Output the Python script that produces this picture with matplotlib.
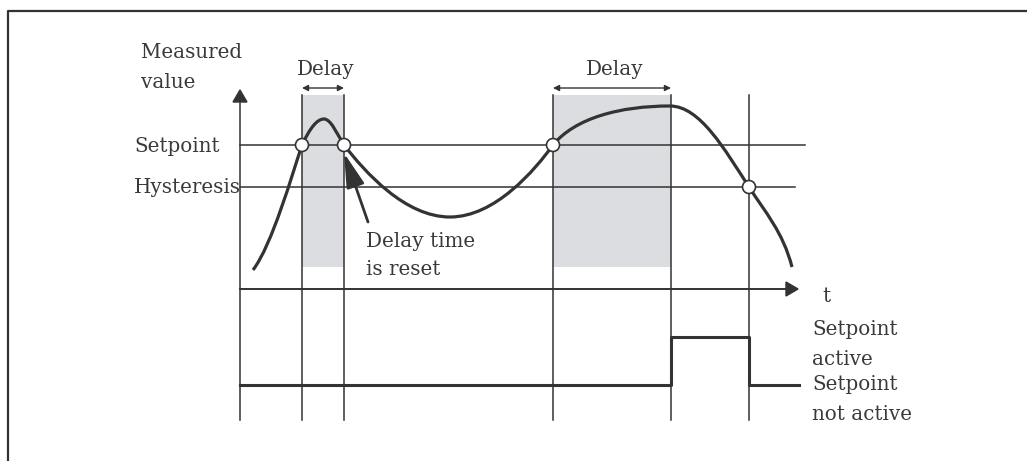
import matplotlib.pyplot as plt
from matplotlib.path import Path
from matplotlib.patches import PathPatch, Polygon, Circle

# layout is in pixel units of the 1027x461 canvas (y grows downwards)
axis_x = 240
axis_top = 102
axis_bottom = 420
time_axis_y = 289
time_axis_end = 798

setpoint_y = 145
hysteresis_y = 187
setpoint_end = 805
hysteresis_end = 795

# switching instants: up-crossing, reset, up-crossing, switch on, switch off
event_t = [302, 344, 553, 671, 749]
event_top = 95
delay_windows = [(302, 344), (553, 671)]
delay_bottom = 267
delay_arrow_y = 88

# measured value, drawn as cubic bezier segments (start point, then 3 per segment)
curve_pts = [
    (253, 270),
    (272, 245), (292, 175), (302, 145),
    (310, 128), (317, 119), (324, 119),
    (331, 119), (337, 134), (344, 145),
    (365, 172), (405, 217), (450, 217),
    (495, 217), (535, 170), (553, 145),
    (575, 118), (620, 106), (670, 106),
    (700, 106), (725, 150), (749, 187),
    (765, 212), (783, 232), (792, 267),
]
crossings = [(302, 145), (344, 145), (553, 145), (749, 187)]

# relay output
switch_t = [240, 671, 749, 799]
switch_state = [0, 1, 0, 0]
low_y, high_y = 385, 337

ink = "#333333"
text_c = "#3a3a3a"
band_c = "#dcdde0"

fig = plt.figure(figsize=(10.27, 4.61), dpi=100)
ax = fig.add_axes([0, 0, 1, 1])
ax.set_xlim(0, 1027)
ax.set_ylim(461, 0)
ax.axis("off")

# frame (open to the right and bottom)
ax.plot([8, 8, 1027], [461, 11, 11], color=ink, lw=1.6, solid_capstyle="butt")

# delay windows
for a, b in delay_windows:
    ax.fill_between([a, b], event_top, delay_bottom, color=band_c, lw=0, zorder=1)
    ax.annotate("", xy=(a, delay_arrow_y), xytext=(b, delay_arrow_y),
                arrowprops=dict(arrowstyle="<|-|>", color=ink, lw=1.0,
                                mutation_scale=9, shrinkA=0, shrinkB=0))
    ax.text((a + b) / 2 + 3, 75, "Delay", ha="center", va="baseline",
            fontsize=14.3, color=text_c, family="DejaVu Serif")

# vertical event lines
for t in event_t:
    ax.plot([t, t], [event_top, axis_bottom], color=ink, lw=1.1, zorder=2)

# level lines
ax.plot([axis_x, setpoint_end], [setpoint_y] * 2, color=ink, lw=1.1, zorder=2)
ax.plot([axis_x, hysteresis_end], [hysteresis_y] * 2, color=ink, lw=1.1, zorder=2)

# axes with arrow heads
ax.plot([axis_x, axis_x], [axis_top, axis_bottom], color=ink, lw=1.1, zorder=2)
ax.add_patch(Polygon([(axis_x - 7, axis_top), (axis_x + 7, axis_top), (axis_x, 90)],
                     closed=True, color=ink, zorder=3))
ax.plot([axis_x, time_axis_end - 10], [time_axis_y] * 2, color=ink, lw=1.4, zorder=2)
ax.add_patch(Polygon([(time_axis_end - 12, time_axis_y - 7), (time_axis_end - 12, time_axis_y + 7),
                      (time_axis_end, time_axis_y)], closed=True, color=ink, zorder=3))

# measured value curve
codes = [Path.MOVETO] + [Path.CURVE4] * (len(curve_pts) - 1)
ax.add_patch(PathPatch(Path(curve_pts, codes), fill=False, ec=ink, lw=2.3,
                       capstyle="butt", zorder=4))
for cx, cy in crossings:
    ax.add_patch(Circle((cx, cy), 6.5, fc="white", ec=ink, lw=1.2, zorder=5))

# reset marker
ax.annotate("", xy=(344, 153), xytext=(368, 222),
            arrowprops=dict(arrowstyle="-|>,head_length=0.75,head_width=0.2", color=ink, lw=2.0,
                            mutation_scale=28, shrinkA=0, shrinkB=0), zorder=4)

# relay output
ax.step(switch_t, [low_y + (high_y - low_y) * s for s in switch_state],
        where="post", color=ink, lw=2.2, zorder=4)

labels = [
    (141, 58, "Measured"), (141, 88, "value"),
    (134, 152, "Setpoint"), (134, 193, "Hysteresis"),
    (366, 247, "Delay time"), (366, 275, "is reset"),
    (822, 302, "t"),
    (812, 335, "Setpoint"), (812, 365, "active"),
    (812, 390, "Setpoint"), (812, 420, "not active"),
]
for x, y, s in labels:
    ax.text(x, y, s, ha="left", va="baseline", fontsize=14.3, color=text_c,
            family="DejaVu Serif", zorder=6)

fig.savefig("out.png", dpi=100, facecolor="white")
